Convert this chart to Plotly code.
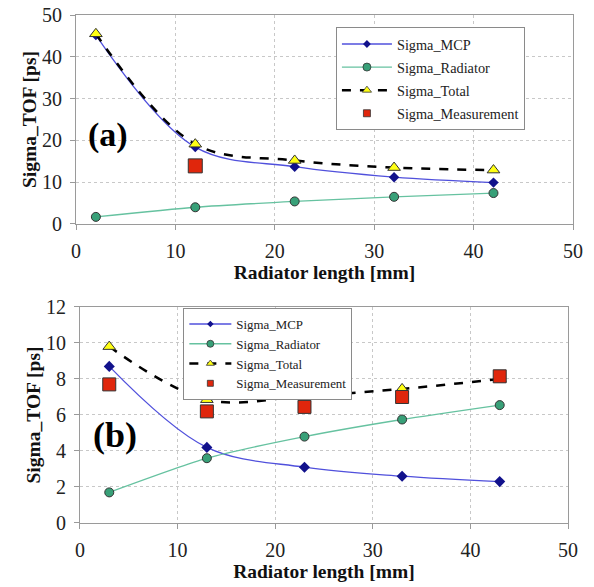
import plotly.graph_objects as go

# ---- data ----
x_a = [2, 12, 22, 32, 42]
mcp_a = [45.2, 18.4, 13.7, 11.2, 9.9]
rad_a = [1.7, 4.0, 5.4, 6.5, 7.4]
tot_a = [45.5, 19.1, 15.2, 13.5, 12.9]
meas_x_a = [12]
meas_a = [13.9]

x_b = [3, 13, 23, 33, 43]
mcp_b = [8.7, 4.2, 3.1, 2.6, 2.3]
rad_b = [1.7, 3.6, 4.8, 5.75, 6.55]
tot_b = [9.8, 6.85, 7.05, 7.45, 8.0]
meas_b = [7.7, 6.2, 6.45, 7.0, 8.15]

names = ["Sigma_MCP", "Sigma_Radiator", "Sigma_Total", "Sigma_Measurement"]
x_ticks = [0, 10, 20, 30, 40, 50]

FONT = "Liberation Serif"
MCP_LINE = "#5050dc"
MCP_MARK = "#12128c"
RAD_LINE = "#66c2a0"
RAD_MARK = "#38a078"
TRI = "#ffff14"
SQ = "#e0260c"
EDGE = "#333333"

fig = go.Figure()

def add_panel(xv, mcp, rad, tot, mx, meas, xa, ya, leg, mk, lk):
    styles = [
        dict(mode="lines+markers",
             line=dict(color=MCP_LINE, width=1.3, shape="spline", smoothing=1.0),
             sym="diamond", col=MCP_MARK, lw=0),
        dict(mode="lines+markers",
             line=dict(color=RAD_LINE, width=1.3, shape="spline", smoothing=0.6),
             sym="circle", col=RAD_MARK, lw=1),
        dict(mode="lines+markers",
             line=dict(color="black", width=2.5, dash="dash", shape="spline", smoothing=1.0),
             sym="triangle-up", col=TRI, lw=1),
        dict(mode="markers", line=None, sym="square", col=SQ, lw=1),
    ]
    series = [(xv, mcp), (xv, rad), (xv, tot), (mx, meas)]
    for i, ((sx, sy), st) in enumerate(zip(series, styles)):
        kw = dict(mode=st["mode"], xaxis=xa, yaxis=ya)
        if st["line"] is not None:
            kw["line"] = st["line"]
        fig.add_trace(go.Scatter(x=sx, y=sy, name=names[i], showlegend=False,
            marker=dict(symbol=st["sym"], size=mk[i], color=st["col"],
                        line=dict(width=st["lw"], color=EDGE)), **kw))
    # legend entries with small symbols
    for i, st in enumerate(styles):
        kw = dict(mode=st["mode"], xaxis=xa, yaxis=ya)
        if st["line"] is not None:
            lk_line = dict(st["line"])
            lk_line.pop("shape", None); lk_line.pop("smoothing", None)
            kw["line"] = lk_line
        fig.add_trace(go.Scatter(x=[None], y=[None], name=names[i], showlegend=True,
            legend=leg, legendgroup=leg + str(i), hoverinfo="skip",
            marker=dict(symbol=st["sym"], size=lk[i], color=st["col"],
                        line=dict(width=st["lw"] * 0.8, color=EDGE)), **kw))

add_panel(x_a, mcp_a, rad_a, tot_a, meas_x_a, meas_a, "x", "y", "legend",
          [8, 9, 11, 14], [6, 8, 8, 7])
add_panel(x_b, mcp_b, rad_b, tot_b, x_b, meas_b, "x2", "y2", "legend2",
          [8.5, 9, 11, 13], [5, 7, 7, 6])

axis_common = dict(showline=True, mirror=True, linecolor="#9a9a9a", linewidth=1.2,
                   showgrid=True, gridcolor="#c8c8c8", griddash="dot", gridwidth=1,
                   ticks="outside", ticklen=5, tickcolor="#9a9a9a", automargin=False,
                   ticklabelstandoff=4, ticklabeloverflow="allow",
                   tickfont=dict(family=FONT, size=20, color="#222"), zeroline=False)
title_font = dict(family=FONT, size=19.5, color="#111")

fig.update_layout(
    width=594, height=587,
    margin=dict(l=76, r=21, t=15, b=64),
    paper_bgcolor="white", plot_bgcolor="white",
    showlegend=True,
    xaxis=dict(domain=[0, 1], anchor="y", range=[0, 50], tickvals=x_ticks,
               title=dict(text="<b>Radiator length [mm]</b>", font=title_font, standoff=0), **axis_common),
    yaxis=dict(domain=[0.5886, 1.0], anchor="x", range=[0, 50], dtick=10,
               title=dict(text="<b>Sigma_TOF [ps]</b>", font=title_font, standoff=0), **axis_common),
    xaxis2=dict(domain=[0.008, 0.99], anchor="y2", range=[0, 50], tickvals=x_ticks,
                title=dict(text="<b>Radiator length [mm]</b>", font=title_font, standoff=4), **axis_common),
    yaxis2=dict(domain=[0, 0.4252], anchor="x2", range=[0, 12], dtick=2,
                title=dict(text="<b>Sigma_TOF [ps]</b>", font=title_font, standoff=0), **axis_common),
    legend=dict(x=0.523, y=0.976, xanchor="left", yanchor="top",
                font=dict(family=FONT, size=14.3, color="#222"),
                bgcolor="white", bordercolor="#8a8a8a", borderwidth=1,
                tracegroupgap=1.5, itemwidth=50, itemsizing="trace"),
    legend2=dict(x=0.216, y=0.423, xanchor="left", yanchor="top",
                 font=dict(family=FONT, size=12.9, color="#222"),
                 bgcolor="white", bordercolor="#8a8a8a", borderwidth=1,
                 tracegroupgap=0, itemwidth=42, itemsizing="trace"),
    annotations=[
        dict(text="<b>(a)</b>", x=0.0644, y=0.7638, xref="paper", yref="paper",
             xanchor="center", yanchor="middle",
             showarrow=False, font=dict(family=FONT, size=34, color="black")),
        dict(text="<b>(b)</b>", x=0.0775, y=0.173, xref="paper", yref="paper",
             xanchor="center", yanchor="middle",
             showarrow=False, font=dict(family=FONT, size=36, color="black")),
    ],
)

fig.write_html("out.html", config={"displayModeBar": False},
               post_script="document.body.style.margin='0';document.body.style.overflow='hidden';")
